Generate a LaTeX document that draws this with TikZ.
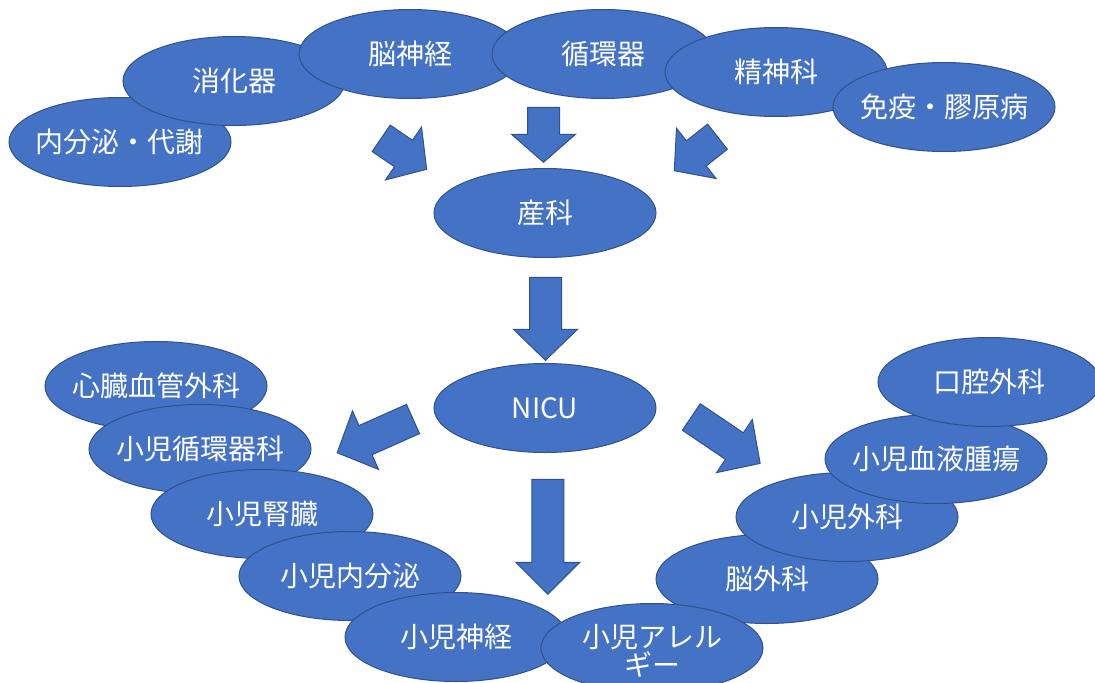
\documentclass[tikz,border=0pt]{standalone}
\usepackage{fontspec}
\setmainfont{Noto Sans CJK JP}
\usetikzlibrary{shapes.geometric}
\definecolor{accfill}{HTML}{4472C4}
\definecolor{accline}{HTML}{2F528F}
\tikzset{
  ell/.style={ellipse, fill=accfill, draw=accline, line width=0.75pt,
    minimum width=166.5pt, minimum height=66.75pt, inner sep=0pt},
  lbl/.style={text=white, font=\fontsize{21}{21}\selectfont, inner sep=0pt, align=center},
  barrow/.style={fill=accfill, draw=accline, line width=0.75pt, line join=miter},
}
\newcommand{\blockarrow}[5]{%
  \begin{scope}[shift={(#1,#2)}, rotate=#3]
    \draw[barrow] (0,-16) -- ({#4-#5},-16) -- ({#4-#5},-32) -- (#4,0)
      -- ({#4-#5},32) -- ({#4-#5},16) -- (0,16) -- cycle;
  \end{scope}}
\newcommand{\bubble}[4]{%
  \node[ell] (#1) at (#2,#3) {};
  \node[lbl] (#1t) at (#1) {#4};}
\begin{document}
\begin{tikzpicture}[x=0.75pt, y=-0.75pt]
\useasboundingbox (0,0) rectangle (1095,682);
\clip (0,0) rectangle (1095,682);
\fill[white] (0,0) rectangle (1095,682);
% top row
\bubble{endo}{120}{142}{内分泌・代謝}
\bubble{gastro}{234}{81}{消化器}
\bubble{neuro}{410}{54}{脳神経}
\bubble{cardio}{603}{54}{循環器}
\bubble{psych}{776}{72}{精神科}
\bubble{immuno}{944}{107}{免疫・膠原病}
% centre
\bubble{obst}{545}{213}{産科}
\bubble{nicu}{545}{408}{NICU}
% bottom left
\bubble{cvs}{156}{386}{心臓血管外科}
\bubble{pcard}{200}{449}{小児循環器科}
\bubble{pkid}{262}{514}{小児腎臓}
\bubble{pendo}{350}{576}{小児内分泌}
\bubble{pneuro}{456}{637}{小児神経}
% bottom right
\bubble{nsurg}{767}{579}{脳外科}
\node[ell] (aller) at (652,648) {};
\node[lbl] (allert) at (652,651) {小児アレル\\ギー};
\bubble{psurg}{847}{517}{小児外科}
\bubble{phem}{936}{459}{小児血液腫瘍}
\bubble{oral}{989}{382}{口腔外科}
% arrows
\blockarrow{381.2}{138.3}{-34.3}{55}{28}
\blockarrow{543.5}{107.3}{-90}{55}{28}
\blockarrow{717.5}{136.7}{-141.8}{55}{28}
\blockarrow{545.5}{277.3}{-90}{83}{31}
\blockarrow{413}{419}{-156}{83}{31}
\blockarrow{547.8}{479.3}{-90}{115}{32}
\blockarrow{691.3}{417}{-34}{83}{31}
\end{tikzpicture}
\end{document}
